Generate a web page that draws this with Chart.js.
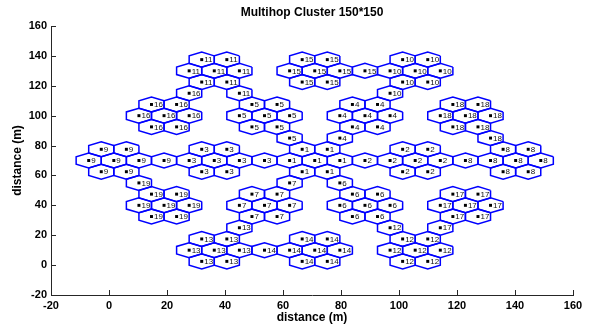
<!DOCTYPE html>
<html>
<head>
<meta charset="utf-8">
<script src="https://cdn.jsdelivr.net/npm/chart.js@4/dist/chart.umd.min.js"></script>
<style>
  html, body { margin: 0; padding: 0; background: #fff; }
  canvas { display: block; }
</style>
</head>
<body>
<canvas id="c" width="591" height="327"></canvas>
<script>
// Chart text
const chartTitle = 'Multihop Cluster 150*150';
const xAxisLabel = 'distance (m)';
const yAxisLabel = 'distance (m)';

// Axis ticks (metres)
const xTicks = [-20, 0, 20, 40, 60, 80, 100, 120, 140, 160];
const yTicks = [-20, 0, 20, 40, 60, 80, 100, 120, 140, 160];

// Hexagonal cell geometry (metres)
const cellRadius = 5;
const gridOriginX = -7;
const gridOriginY = 2.5;

// Cells: cluster id, lattice column (half-cell steps) and lattice row
const hexCluster = [
  11,11,11,11,11,11,11,11,
  15,15,15,15,15,15,15,15,
  10,10,10,10,10,10,10,10,
  16,16,16,16,16,16,16,16,
  5,5,5,5,5,5,5,5,
  4,4,4,4,4,4,4,4,
  18,18,18,18,18,18,18,18,
  9,9,9,9,9,9,9,9,
  3,3,3,3,3,3,3,3,
  1,1,1,1,1,1,1,
  2,2,2,2,2,2,2,2,
  8,8,8,8,8,8,8,8,
  19,19,19,19,19,19,19,19,
  7,7,7,7,7,7,7,7,
  6,6,6,6,6,6,6,6,
  17,17,17,17,17,17,17,17,
  13,13,13,13,13,13,13,13,
  14,14,14,14,14,14,14,14,
  12,12,12,12,12,12,12,12
];
const hexCol = [
  9,11,8,10,12,9,11,12,
  17,19,16,18,20,22,17,19,
  25,27,24,26,28,25,27,24,
  8,5,7,4,6,8,5,7,
  13,15,12,14,16,13,15,16,
  21,23,20,22,24,21,23,20,
  29,31,28,30,32,29,31,32,
  1,3,0,2,4,6,1,3,
  9,11,8,10,12,14,9,11,
  17,19,16,18,20,17,19,
  25,27,22,24,26,28,25,27,
  33,35,30,32,34,36,33,35,
  4,5,7,4,6,8,5,7,
  16,13,15,12,14,16,13,15,
  20,21,23,20,22,24,21,23,
  29,31,28,30,32,29,31,28,
  12,9,11,8,10,12,9,11,
  17,19,14,16,18,20,17,19,
  24,25,27,24,26,28,25,27
];
const hexRow = [
  18,18,17,17,17,16,16,15,
  18,18,17,17,17,17,16,16,
  18,18,17,17,17,16,16,15,
  15,14,14,13,13,13,12,12,
  14,14,13,13,13,12,12,11,
  14,14,13,13,13,12,12,11,
  14,14,13,13,13,12,12,11,
  10,10,9,9,9,9,8,8,
  10,10,9,9,9,9,8,8,
  10,10,9,9,9,8,8,
  10,10,9,9,9,9,8,8,
  10,10,9,9,9,9,8,8,
  7,6,6,5,5,5,4,4,
  7,6,6,5,5,5,4,4,
  7,6,6,5,5,5,4,4,
  6,6,5,5,5,4,4,3,
  3,2,2,1,1,1,0,0,
  2,2,1,1,1,1,0,0,
  3,2,2,1,1,1,0,0
];

// Cell centres in metres (pointy-top honeycomb lattice)
const halfPitch = cellRadius * Math.sqrt(3) / 2;
const centres = hexCol.map((c, i) => ({
  x: gridOriginX + c * halfPitch,
  y: gridOriginY + hexRow[i] * 1.5 * cellRadius
}));

// Pointy-top hexagon outline around a cell centre
function hexOutline(p) {
  const pts = [];
  for (let k = 0; k <= 6; k++) {
    const a = (30 + 60 * k) * Math.PI / 180;
    pts.push({ x: p.x + cellRadius * Math.cos(a), y: p.y + cellRadius * Math.sin(a) });
  }
  return pts;
}

const datasets = centres.map(p => ({
  data: hexOutline(p),
  showLine: true,
  borderColor: '#0000ff',
  borderWidth: 1.5,
  pointRadius: 0,
  fill: false,
  tension: 0
}));
datasets.push({
  data: centres,
  showLine: false,
  pointStyle: 'rect',
  pointRadius: 2.1,
  backgroundColor: '#000',
  borderWidth: 0
});

const FONT = 'Liberation Sans';

// Cluster id next to each cell-head dot
const cellLabels = {
  id: 'cellLabels',
  afterDatasetsDraw(chart) {
    const { ctx, scales: { x, y } } = chart;
    ctx.save();
    ctx.font = '8px "' + FONT + '"';
    ctx.fillStyle = '#111';
    ctx.textAlign = 'left';
    ctx.textBaseline = 'middle';
    centres.forEach((p, i) => {
      ctx.fillText(String(hexCluster[i]), x.getPixelForValue(p.x) + 2.5, y.getPixelForValue(p.y) + 0.5);
    });
    ctx.restore();
  }
};

// Inward tick marks and the plot title
const frameDecor = {
  id: 'frameDecor',
  afterDraw(chart) {
    const { ctx, chartArea: a, scales: { x, y } } = chart;
    ctx.save();
    ctx.strokeStyle = '#262626';
    ctx.lineWidth = 1;
    ctx.beginPath();
    xTicks.forEach(v => {
      const px = Math.round(x.getPixelForValue(v)) + 0.5;
      ctx.moveTo(px, a.bottom);
      ctx.lineTo(px, a.bottom - 5);
    });
    yTicks.forEach(v => {
      const py = Math.round(y.getPixelForValue(v)) + 0.5;
      ctx.moveTo(a.left, py);
      ctx.lineTo(a.left + 5, py);
    });
    ctx.stroke();
    ctx.font = 'bold 12px "' + FONT + '"';
    ctx.fillStyle = '#000';
    ctx.textAlign = 'center';
    ctx.textBaseline = 'middle';
    ctx.fillText(chartTitle, (a.left + a.right) / 2, 13);
    ctx.restore();
  }
};

const tickFont = { family: FONT, weight: 'bold', size: 11 };
const titleFont = { family: FONT, weight: 'bold', size: 12 };

new Chart(document.getElementById('c'), {
  type: 'scatter',
  data: { datasets },
  options: {
    responsive: false,
    animation: false,
    devicePixelRatio: 1,
    layout: { padding: { top: 26, right: 18, left: 0, bottom: 0 } },
    plugins: { legend: { display: false }, tooltip: { enabled: false } },
    scales: {
      x: {
        type: 'linear', min: -20, max: 160,
        afterBuildTicks: s => { s.ticks = xTicks.map(v => ({ value: v })); },
        afterFit: s => { s.height = 32; },
        ticks: { autoSkip: false, maxRotation: 0, font: tickFont, color: '#000', padding: 4 },
        grid: { display: false, drawTicks: false },
        border: { display: true, color: '#262626', width: 1 },
        title: { display: true, text: xAxisLabel, font: titleFont, color: '#000', padding: { top: 0, bottom: 2 } }
      },
      y: {
        type: 'linear', min: -20, max: 160,
        afterBuildTicks: s => { s.ticks = yTicks.map(v => ({ value: v })); },
        afterFit: s => { s.width = 51; },
        ticks: { autoSkip: false, font: tickFont, color: '#000', padding: 4 },
        grid: { display: false, drawTicks: false },
        border: { display: true, color: '#262626', width: 1 },
        title: { display: true, text: yAxisLabel, font: titleFont, color: '#000', padding: { top: 10, bottom: 0 } }
      }
    }
  },
  plugins: [cellLabels, frameDecor]
});
</script>
</body>
</html>
